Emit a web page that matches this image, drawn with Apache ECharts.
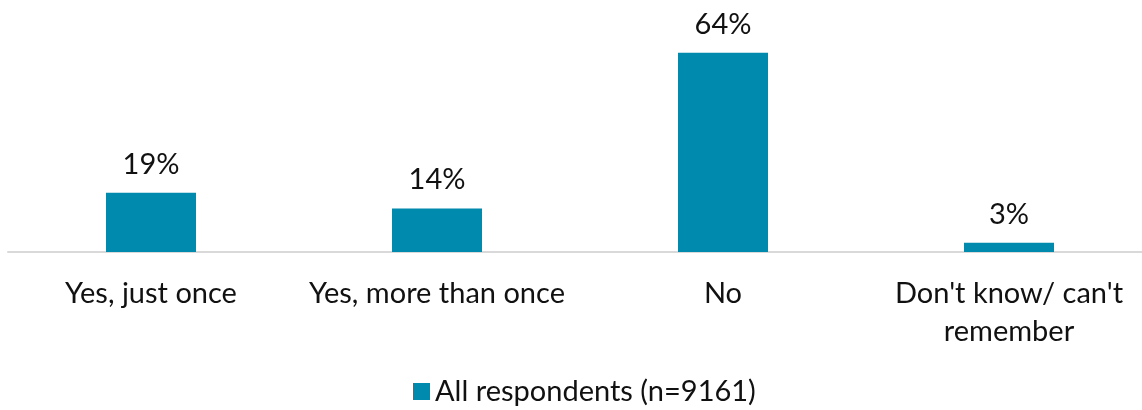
<!DOCTYPE html>
<html><head><meta charset="utf-8">
<script src="https://cdn.jsdelivr.net/npm/echarts@6/dist/echarts.min.js"></script>
<style>html,body{margin:0;padding:0;background:#fff;overflow:hidden;width:1142px;height:410px}#c{width:1152px;height:410px}</style>
</head><body><div id="c"></div>
<script>
const categories = ["Yes, just once", "Yes, more than once", "No", "Don't know/ can't\nremember"];
const values = [19, 14, 64, 3];
const seriesName = "All respondents (n=9161)";
const FONT = "Lato";
const chart = echarts.init(document.getElementById('c'));
chart.setOption({
  animation: false,
  textStyle: { fontFamily: FONT },
  grid: { left: 8, right: 0, top: 34, bottom: 158, containLabel: false },
  legend: {
    top: 372, left: 408, itemWidth: 17, itemHeight: 17, itemGap: 10,
    icon: 'rect',
    textStyle: { fontSize: 29, color: '#111', fontFamily: FONT },
    data: [seriesName]
  },
  xAxis: {
    type: 'category', data: categories,
    axisLine: { lineStyle: { color: '#d9d9d9', width: 2 } },
    axisTick: { show: false },
    axisLabel: { fontSize: 29, color: '#111', margin: 23, lineHeight: 38, fontFamily: FONT, interval: 0 }
  },
  yAxis: { type: 'value', min: 0, max: 70, show: false, splitLine: { show: false } },
  series: [{
    name: seriesName, type: 'bar', data: values, barWidth: 90,
    itemStyle: { color: '#008aad' },
    label: { show: true, position: 'top', distance: 14, formatter: '{c}%', fontSize: 29, color: '#111', fontFamily: FONT }
  }]
});
</script></body></html>
